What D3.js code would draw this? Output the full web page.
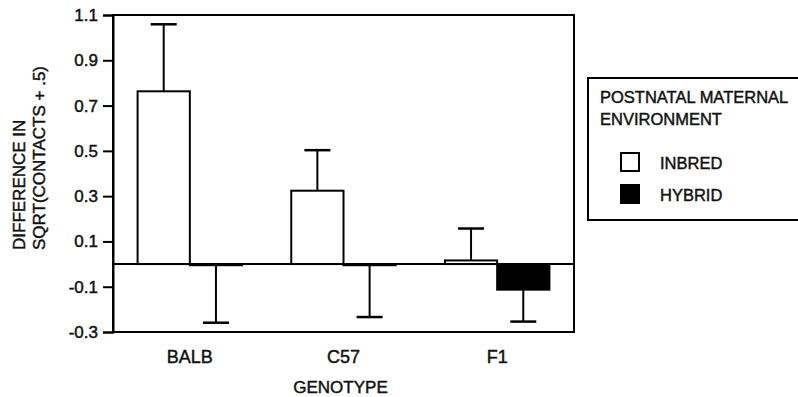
<!DOCTYPE html>
<html>
<head>
<meta charset="utf-8">
<script src="https://cdn.jsdelivr.net/npm/d3@7"></script>
<style>
body { margin: 0; background: #fff; }
text { font-family: "Liberation Sans", Arial, sans-serif; fill: #111; stroke: #111; stroke-width: 0.45px; }
</style>
</head>
<body>
<div id="chart"></div>
<script>
// data
var genotypes = ["BALB", "C57", "F1"];
var environments = ["INBRED", "HYBRID"];
var inbredMeans = [0.763, 0.324, 0.016];
var inbredErr = [0.296, 0.179, 0.141];
var hybridMeans = [-0.005, -0.005, -0.113];
var hybridErr = [0.254, 0.229, 0.141];
var yTicks = [-0.3, -0.1, 0.1, 0.3, 0.5, 0.7, 0.9, 1.1];
var envFill = ["#fff", "#000"];

var width = 798, height = 397;
var margin = {top: 15, right: 224, bottom: 65, left: 113};
var plotW = width - margin.left - margin.right;
var plotH = height - margin.top - margin.bottom;

var svg = d3.select("#chart").append("svg")
    .attr("width", width).attr("height", height);
var g = svg.append("g").attr("transform", "translate(" + margin.left + "," + margin.top + ")");

var x0 = d3.scaleBand().domain(genotypes).range([0, plotW])
    .paddingInner(0.32).paddingOuter(0.16);
var x1 = d3.scaleBand().domain(environments).range([0, x0.bandwidth()]);
var y = d3.scaleLinear().domain([-0.3, 1.1]).range([plotH, 0]);

// rows: one per bar
var rows = [];
genotypes.forEach(function(gt, i) {
    rows.push({geno: gt, env: "INBRED", mean: inbredMeans[i], err: inbredErr[i]});
    rows.push({geno: gt, env: "HYBRID", mean: hybridMeans[i], err: hybridErr[i]});
});

// frame
g.append("rect").attr("x", 0).attr("y", 0).attr("width", plotW).attr("height", plotH)
    .attr("fill", "none").attr("stroke", "#000").attr("stroke-width", 2);

// y axis
var yAxis = g.append("g").call(d3.axisLeft(y).tickValues(yTicks).tickSize(10).tickPadding(5)
    .tickFormat(d3.format(".1f")));
yAxis.select(".domain").attr("stroke-width", 2);
yAxis.selectAll(".tick line").attr("stroke-width", 2);
yAxis.selectAll(".tick text").style("font-size", "17px").attr("fill", "#111")
    .text(function(d) { return d3.format(".1f")(d).replace("−", "-"); });

// bars
var bars = g.selectAll(".bar").data(rows).enter().append("g")
    .attr("transform", function(d) { return "translate(" + x0(d.geno) + ",0)"; });

// error bars (drawn first so the bar outline sits on top)
bars.append("line")
    .attr("x1", function(d) { return x1(d.env) + x1.bandwidth() / 2; })
    .attr("x2", function(d) { return x1(d.env) + x1.bandwidth() / 2; })
    .attr("y1", function(d) { return y(d.mean); })
    .attr("y2", function(d) { return d.mean >= 0 ? y(d.mean + d.err) : y(d.mean - d.err); })
    .attr("stroke", "#000").attr("stroke-width", 2);
bars.append("line")
    .attr("x1", function(d) { return x1(d.env) + x1.bandwidth() / 2 - 13; })
    .attr("x2", function(d) { return x1(d.env) + x1.bandwidth() / 2 + 13; })
    .attr("y1", function(d) { return d.mean >= 0 ? y(d.mean + d.err) : y(d.mean - d.err); })
    .attr("y2", function(d) { return d.mean >= 0 ? y(d.mean + d.err) : y(d.mean - d.err); })
    .attr("stroke", "#000").attr("stroke-width", 2.5);

bars.append("rect")
    .attr("x", function(d) { return x1(d.env); })
    .attr("width", x1.bandwidth())
    .attr("y", function(d) { return y(Math.max(0, d.mean)); })
    .attr("height", function(d) { return Math.abs(y(d.mean) - y(0)); })
    .attr("fill", function(d) { return envFill[environments.indexOf(d.env)]; })
    .attr("stroke", "#000").attr("stroke-width", 2);

// zero line
g.append("line").attr("x1", 0).attr("x2", plotW).attr("y1", y(0)).attr("y2", y(0))
    .attr("stroke", "#000").attr("stroke-width", 2);

// x labels
g.selectAll(".xlab").data(genotypes).enter().append("text")
    .attr("x", function(d) { return x0(d) + x0.bandwidth() / 2; })
    .attr("y", plotH + 31)
    .attr("text-anchor", "middle").style("font-size", "18px")
    .text(function(d) { return d; });

g.append("text").attr("x", plotW / 2 - 3).attr("y", plotH + 61)
    .attr("text-anchor", "middle").style("font-size", "17px").text("GENOTYPE");

// y title (two lines)
var yt = svg.append("text").attr("transform", "translate(0,250) rotate(-90)")
    .style("font-size", "17px");
yt.append("tspan").attr("x", 0).attr("y", 25).text("DIFFERENCE IN");
yt.append("tspan").attr("x", 0).attr("y", 45).text("SQRT(CONTACTS + .5)");

// legend
var lg = svg.append("g").attr("transform", "translate(588,78)");
lg.append("rect").attr("width", 240).attr("height", 142)
    .attr("fill", "#fff").attr("stroke", "#000").attr("stroke-width", 2);
lg.append("text").attr("x", 12).attr("y", 25).style("font-size", "16.5px").text("POSTNATAL MATERNAL");
lg.append("text").attr("x", 12).attr("y", 47).style("font-size", "16.5px").text("ENVIRONMENT");
var items = lg.selectAll(".item").data(environments).enter().append("g")
    .attr("transform", function(d, i) { return "translate(33," + (75 + i * 32) + ")"; });
items.append("rect").attr("width", 18).attr("height", 18)
    .attr("fill", function(d, i) { return envFill[i]; })
    .attr("stroke", "#000").attr("stroke-width", 2);
items.append("text").attr("x", 39).attr("y", 16).style("font-size", "16.5px")
    .text(function(d) { return d; });
</script>
</body>
</html>
